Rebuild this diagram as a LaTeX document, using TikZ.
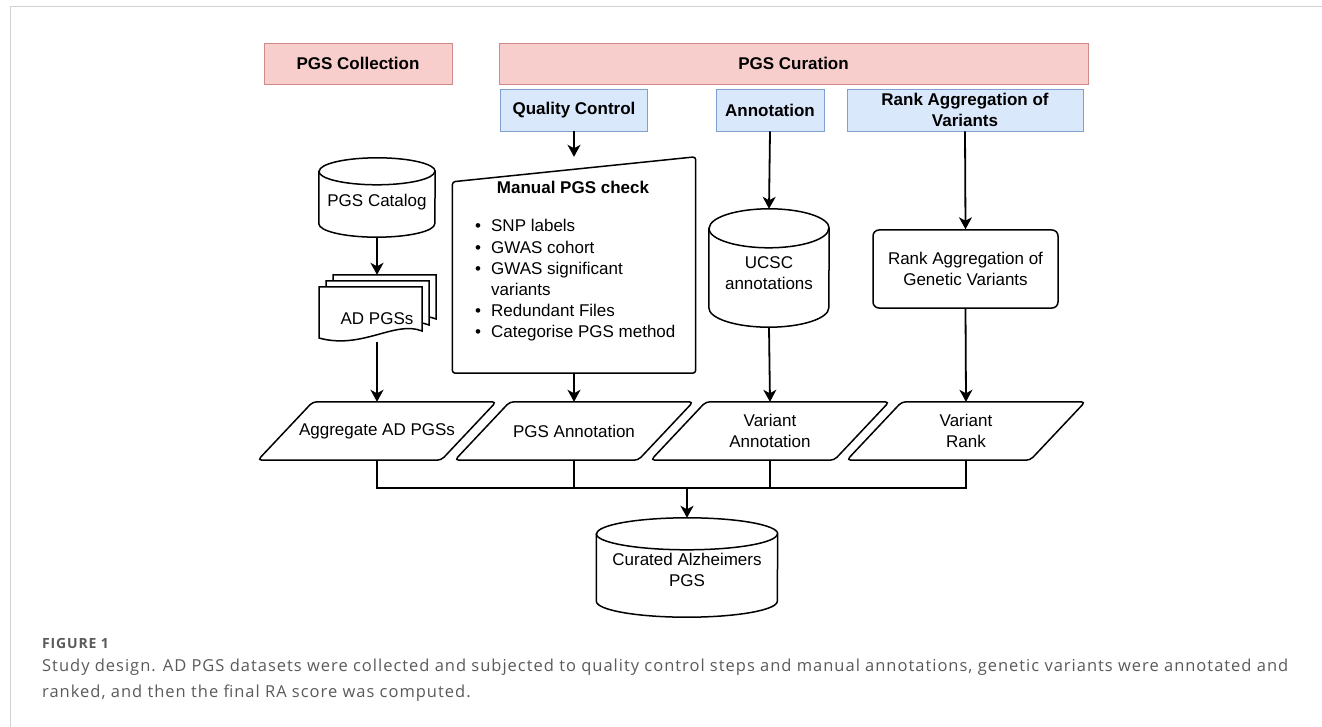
\documentclass[tikz,border=0pt]{standalone}
\usepackage{fontspec}
\setmainfont{Liberation Sans}
\newfontfamily\capfont[LetterSpace=6]{Open Sans}
\usepackage{xcolor}
\usepackage{tikz}
\usetikzlibrary{shapes, arrows.meta, calc, positioning}

\definecolor{phasered}{HTML}{F8CECC}
\definecolor{phasedraw}{HTML}{D08A88}
\definecolor{stepblue}{HTML}{DAE8FC}
\definecolor{stepdraw}{HTML}{7F9FCF}
\definecolor{capgray}{HTML}{5A5A5A}

\begin{document}
\begin{tikzpicture}[x=1pt, y=-1pt, every node/.style={font=\fontsize{17}{20.5}\selectfont}]

		\tikzstyle{phase}=[draw=phasedraw, fill=phasered, line width=0.9pt, minimum height=41pt, font=\fontsize{17}{20.5}\selectfont\bfseries]
		\tikzstyle{stephdr}=[draw=stepdraw, fill=stepblue, line width=0.9pt, minimum height=42pt, inner sep=1pt, align=center, font=\fontsize{17}{20.5}\selectfont\bfseries]
		\tikzstyle{dbase}=[rectangle, inner sep=0pt]
		\tikzstyle{dataio}=[rectangle, minimum width=238pt, minimum height=58pt, inner sep=0pt, align=center]
		\tikzstyle{procbox}=[rectangle, rounded corners=6pt, draw, line width=1.5pt, align=center, minimum width=185pt, minimum height=78pt]
		\tikzstyle{outline}=[line width=1.5pt]
		\tikzstyle{flow}=[line width=1.8pt, -{Stealth[length=12pt, width=13pt, inset=3.5pt]}]
		\tikzstyle{link}=[line width=1.8pt]
		%%	\tikzstyle{docpage}=[draw, fill=white]

		\useasboundingbox (0,0) rectangle (1322,727);
		\draw [gray!35, line width=1pt] (1322,7) -- (10,7) -- (10,727);

		% phases and steps
		\node (collect) at (358,63.5) [phase, minimum width=188pt] {PGS Collection};
		\node (curate) at (793.5,63.5) [phase, minimum width=589pt] {PGS Curation};

		\node (qc) at (574,110) [stephdr, minimum width=147pt] {Quality Control};
		\node (annot) at (770,110) [stephdr, minimum width=108pt] {Annotation};
		\node (rankhdr) at (965,110) [stephdr, minimum width=236pt] {Rank Aggregation of\\Variants};

		% collection column
		\node (catalog) at (377,197.5) [dbase, minimum width=116pt, minimum height=79pt] {};
		\node (catalogtxt) at (377,202) {PGS Catalog};

		\node (adpgs) at (377,308.5) [minimum width=116pt, minimum height=67pt, inner sep=0pt] {};
		\foreach \d in {14,7,0} {
			\begin{scope}[shift={(\d,-0.86*\d)}]
				\draw [outline, fill=white] (319,287) -- (422,287) -- (422,331) .. controls (395,320) and (362,350) .. (319,338) -- cycle;
			\end{scope}
		}
		\node (adpgslbl) at (377,319) {AD PGSs};

		% quality control
		\node (mancheck) at (574,265) [minimum width=243pt, minimum height=216pt, inner sep=0pt] {};
		\draw [outline, rounded corners=3pt] (mancheck.south west) -- ($(mancheck.north west)+(0,25)$) -- (mancheck.north east) -- (mancheck.south east) -- cycle;
		\node (mantitle) at (573,187) [font=\fontsize{17}{20.5}\selectfont\bfseries] {Manual PGS check};
		\node (manlist) [anchor=base west, inner sep=0pt, font=\fontsize{17}{21.2}\selectfont] at (475,232) {\begin{tabular}[t]{@{}l@{\hspace{10pt}}l@{}}
				\textbullet & SNP labels\\
				\textbullet & GWAS cohort\\
				\textbullet & GWAS significant\\
				& variants\\
				\textbullet & Redundant Files\\
				\textbullet & Categorise PGS method
			\end{tabular}};

		% annotation and ranking
		\node (ucsc) at (769,268) [dbase, minimum width=120pt, minimum height=118pt] {};
		\node (ucsctxt) at (769,273) [align=center] {UCSC\\annotations};
		\node (rankgen) at (965.5,269) [procbox] {Rank Aggregation of\\Genetic Variants};

		% outputs
		\node (aggr) at (377,431) [dataio] {Aggregate AD PGSs};
		\node (pgsann) at (574,431) [dataio] {PGS Annotation};
		\node (varann) at (770,431) [dataio] {Variant\\Annotation};
		\node (varrank) at (966,431) [dataio] {Variant\\Rank};
		\foreach \n in {aggr, pgsann, varann, varrank}
			\draw [outline, rounded corners=4pt] (\n.south west) -- ($(\n.north west)+(55,0)$) -- (\n.north east) -- ($(\n.south east)+(-55,0)$) -- cycle;

		\coordinate (merge) at (687,488);
		\node (curated) at (687,567.5) [dbase, minimum width=181pt, minimum height=99pt] {};
		\node (curatedtxt) at (687,570) [align=center] {Curated Alzheimers\\PGS};

		% cylinder outlines
		\foreach \n/\rx/\ry in {catalog/58/13.5, ucsc/60/19.5, curated/90.5/16} {
			\draw [outline] ($(\n.north west)+(0,\ry)$) -- ($(\n.south west)+(0,-\ry)$) arc [start angle=180, end angle=360, x radius=\rx pt, y radius=\ry pt] -- ($(\n.north east)+(0,\ry)$) arc [start angle=0, end angle=180, x radius=\rx pt, y radius=\ry pt] -- cycle;
			\draw [outline] ($(\n.north west)+(0,\ry)$) arc [start angle=180, end angle=360, x radius=\rx pt, y radius=\ry pt];
		}

		\draw [flow] (catalog.south) -- (adpgs.north);
		\draw [flow] (adpgs.south) -- (aggr.north);
		\draw [flow] (qc.south) -- (mancheck.north);
		\draw [flow] (mancheck.south) -- (pgsann.north);
		\draw [flow] (annot.south) -- (ucsc.north);
		\draw [flow] (ucsc.south) -- (varann.north);
		\draw [flow] (rankhdr.south) -- (rankgen.north);
		\draw [flow] (rankgen.south) -- (varrank.north);

		\draw [link] (aggr.south) -- (aggr.south |- merge) -- (varrank.south |- merge) -- (varrank.south);
		\draw [link] (pgsann.south) -- (pgsann.south |- merge);
		\draw [link] (varann.south) -- (varann.south |- merge);
		\draw [flow] (merge) -- (curated.north);

		% caption
		\node (figlbl) [anchor=base west, inner sep=0pt, text=capgray, font=\capfont\fontsize{14}{16}\selectfont\bfseries] at (42,648) {FIGURE 1};
		\node (figcap) [anchor=base west, inner sep=0pt, text=capgray, font=\capfont\fontsize{16.5}{24}\selectfont] at (42,671) {Study design. AD PGS datasets were collected and subjected to quality control steps and manual annotations, genetic variants were annotated and};
		\node (figcap2) [anchor=base west, inner sep=0pt, text=capgray, font=\capfont\fontsize{16.5}{24}\selectfont] at (42,697) {ranked, and then the final RA score was computed.};
\end{tikzpicture}
\end{document}
